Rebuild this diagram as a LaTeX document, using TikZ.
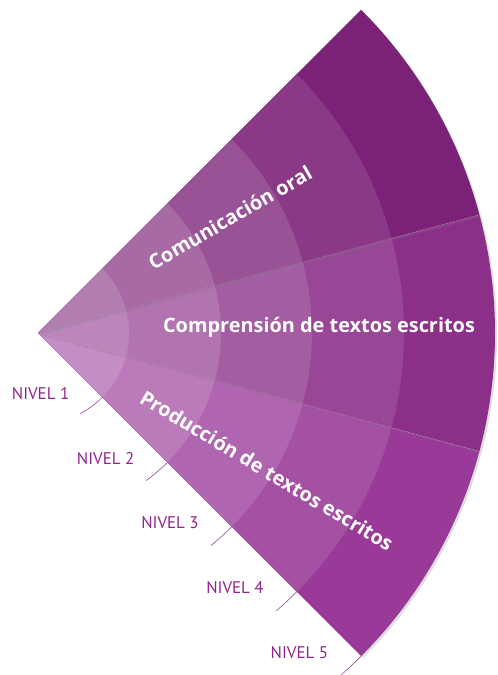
\documentclass[tikz,border=0pt]{standalone}
\usepackage{fontspec}
\setmainfont{Open Sans}
\newfontfamily\nivelfont{PT Sans}
\usetikzlibrary{shadows,positioning}
\definecolor{oral}{HTML}{7B2177}
\definecolor{compr}{HTML}{8B2F89}
\definecolor{prod}{HTML}{993A98}
\definecolor{morado}{HTML}{8F258C}
\tikzset{
  campo/.style={text=white, font=\bfseries\fontsize{28.3}{31}\selectfont},
  etiqueta/.style={text=morado, inner sep=0pt, font=\nivelfont\fontsize{24}{26}\selectfont},
  marca/.style={draw=morado, line width=0.7pt},
  sombra/.style={drop shadow={shadow xshift=0.1cm, shadow yshift=-0.1cm, opacity=0.25}},
  borde/.style={draw=white, draw opacity=0.45, dash pattern=on 2pt off 1.5pt, line width=0.4pt}
}

\begin{document}
\begin{tikzpicture}[x=0.05cm,y=0.05cm]
\useasboundingbox (0,0) rectangle (498,675);
\begin{scope}[shift={(38,342)}]
\coordinate (O) at (0,0);
\foreach \c/\a in {prod/-45, compr/-15, oral/15}{
  \fill[\c, sombra] (O) -- (\a:457) arc[start angle=\a, delta angle=30, radius=457] -- cycle;
  \foreach \r/\p in {366/89, 274/78, 183/67, 91/58}
    \fill[\c!\p!white] (O) -- (\a:\r) arc[start angle=\a, delta angle=30, radius=\r] -- cycle;
}
\foreach \a in {-15,15}
  \draw[borde] (O) -- (\a:457);

\node[campo, rotate=30] (tOral) at (31:224) {Comunicación oral};
\node[campo, anchor=base] (tCompr) at (0:281) {Comprensión de textos escritos};
\node[campo, rotate=-31] (tProd) at (-31:267) {Producción de textos escritos};

\foreach \r [count=\i] in {91,183,274,366,457}{
  \pgfmathsetmacro\d{-1604/\r}
  \coordinate (n\i) at (-45:\r);
  \draw[marca] (n\i) arc[start angle=-45, delta angle=\d, radius=\r];
  \node[etiqueta, left=1.65cm of n\i, yshift=0.2cm] (lbl\i) {NIVEL \i};
}
\end{scope}
\end{tikzpicture}
\end{document}
